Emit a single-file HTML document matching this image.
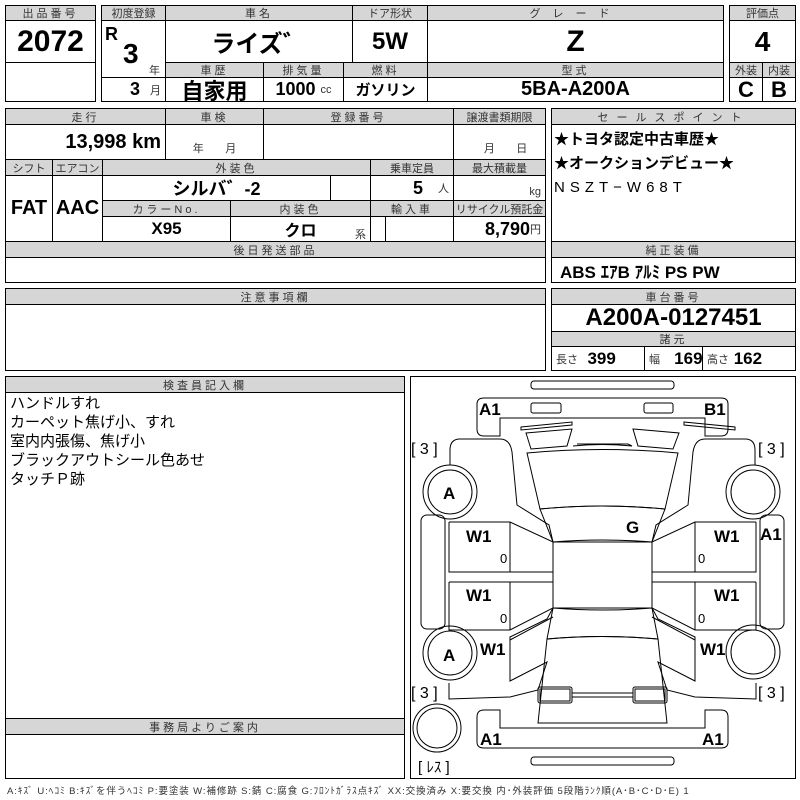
<!DOCTYPE html>
<html><head><meta charset="utf-8">
<style>
body{margin:0;width:800px;height:800px;background:#fff;position:relative;overflow:hidden;font-family:"Liberation Sans","Noto Sans CJK JP",sans-serif;}
.c{position:absolute;border:1px solid #000;box-sizing:border-box;display:flex;align-items:center;justify-content:center;white-space:nowrap;overflow:hidden;}
.h{background:#d6d6d6;font-size:11px;letter-spacing:3px;color:#333;}
.b{font-family:"Liberation Sans Narrow","Liberation Sans","Noto Sans CJK JP",sans-serif;font-weight:bold;color:#000;}
.s{font-size:11px;font-weight:normal;color:#333;}
.L{justify-content:flex-start;padding-left:4px;}
.R{justify-content:flex-end;padding-right:4px;}
</style></head><body>
<!-- top left -->
<div class="c h" style="left:5px;top:5px;width:91px;height:16px">出品番号</div>
<div class="c b" style="left:5px;top:20px;width:91px;height:43px;font-size:30px">2072</div>
<div class="c" style="left:5px;top:62px;width:91px;height:40px"></div>
<!-- main top -->
<div class="c h" style="left:101px;top:5px;width:65px;height:16px;letter-spacing:0">初度登録</div>
<div class="c h" style="left:165px;top:5px;width:188px;height:16px">車名</div>
<div class="c h" style="left:352px;top:5px;width:76px;height:16px;letter-spacing:0">ドア形状</div>
<div class="c h" style="left:427px;top:5px;width:297px;height:16px;letter-spacing:12px">グレード</div>
<div class="c" style="left:101px;top:20px;width:65px;height:58px"></div>
<div class="b" style="position:absolute;left:105px;top:24px;font-size:18px">R</div>
<div class="b" style="position:absolute;left:123px;top:38px;font-size:28px">3</div>
<div class="s" style="position:absolute;left:149px;top:62px">年</div>
<div class="c b" style="left:165px;top:20px;width:188px;height:43px;font-size:24px">ライズ゛</div>
<div class="c b" style="left:352px;top:20px;width:76px;height:43px;font-size:24px">5W</div>
<div class="c b" style="left:427px;top:20px;width:297px;height:43px;font-size:30px">Z</div>
<div class="c h" style="left:165px;top:62px;width:99px;height:16px">車歴</div>
<div class="c h" style="left:263px;top:62px;width:81px;height:16px">排気量</div>
<div class="c h" style="left:343px;top:62px;width:85px;height:16px">燃料</div>
<div class="c h" style="left:427px;top:62px;width:297px;height:16px">型式</div>
<div class="c b R" style="left:101px;top:77px;width:65px;height:25px;font-size:18px">3&nbsp;&nbsp;<span class="s">月</span></div>
<div class="c b" style="left:165px;top:77px;width:99px;height:25px;font-size:22px">自家用</div>
<div class="c b" style="left:263px;top:77px;width:81px;height:25px;font-size:18px">1000&nbsp;<span class="s">cc</span></div>
<div class="c b" style="left:343px;top:77px;width:85px;height:25px;font-size:15px">ガソリン</div>
<div class="c b" style="left:427px;top:77px;width:297px;height:25px;font-size:20px">5BA-A200A</div>
<!-- score -->
<div class="c h" style="left:729px;top:5px;width:67px;height:16px;letter-spacing:0">評価点</div>
<div class="c b" style="left:729px;top:20px;width:67px;height:43px;font-size:28px">4</div>
<div class="c h" style="left:729px;top:62px;width:34px;height:16px;letter-spacing:0">外装</div>
<div class="c h" style="left:762px;top:62px;width:34px;height:16px;letter-spacing:0">内装</div>
<div class="c b" style="left:729px;top:77px;width:34px;height:25px;font-size:22px">C</div>
<div class="c b" style="left:762px;top:77px;width:34px;height:25px;font-size:22px">B</div>
<!-- second block -->
<div class="c h" style="left:5px;top:108px;width:161px;height:17px">走行</div>
<div class="c h" style="left:165px;top:108px;width:99px;height:17px">車検</div>
<div class="c h" style="left:263px;top:108px;width:191px;height:17px">登録番号</div>
<div class="c h" style="left:453px;top:108px;width:93px;height:17px;letter-spacing:0">譲渡書類期限</div>
<div class="c b R" style="left:5px;top:124px;width:161px;height:36px;font-size:20px">13,998 km</div>
<div class="c s" style="left:165px;top:124px;width:99px;height:36px;align-items:flex-end;padding-bottom:3px">年&nbsp;&nbsp;&nbsp;&nbsp;&nbsp;&nbsp;&nbsp;月</div>
<div class="c" style="left:263px;top:124px;width:191px;height:36px"></div>
<div class="c s" style="left:453px;top:124px;width:93px;height:36px;align-items:flex-end;padding-bottom:3px">&nbsp;&nbsp;&nbsp;&nbsp;月&nbsp;&nbsp;&nbsp;&nbsp;&nbsp;&nbsp;&nbsp;日</div>
<div class="c h" style="left:5px;top:159px;width:48px;height:17px;letter-spacing:0">シフト</div>
<div class="c h" style="left:52px;top:159px;width:51px;height:17px;letter-spacing:0">エアコン</div>
<div class="c h" style="left:102px;top:159px;width:269px;height:17px">外装色</div>
<div class="c h" style="left:370px;top:159px;width:84px;height:17px;letter-spacing:0">乗車定員</div>
<div class="c h" style="left:453px;top:159px;width:93px;height:17px;letter-spacing:0">最大積載量</div>
<div class="c b" style="left:5px;top:175px;width:48px;height:67px;font-size:20px">FAT</div>
<div class="c b" style="left:52px;top:175px;width:51px;height:67px;font-size:20px">AAC</div>
<div class="c b" style="left:102px;top:175px;width:229px;height:26px;font-size:18px">シルバ゛-2</div>
<div class="c" style="left:330px;top:175px;width:41px;height:26px"></div>
<div class="c b R" style="left:370px;top:175px;width:84px;height:26px;font-size:18px">5&nbsp;&nbsp;&nbsp;<span class="s">人</span></div>
<div class="c s R" style="left:453px;top:175px;width:93px;height:26px;align-items:flex-end;padding-bottom:2px">kg</div>
<div class="c h" style="left:102px;top:200px;width:129px;height:17px">カラーNo.</div>
<div class="c h" style="left:230px;top:200px;width:141px;height:17px">内装色</div>
<div class="c h" style="left:370px;top:200px;width:84px;height:17px">輸入車</div>
<div class="c h" style="left:453px;top:200px;width:93px;height:17px;letter-spacing:0">リサイクル預託金</div>
<div class="c b" style="left:102px;top:216px;width:129px;height:26px;font-size:17px">X95</div>
<div class="c b" style="left:230px;top:216px;width:141px;height:26px;font-size:16px">クロ</div>
<div class="s" style="position:absolute;left:355px;top:226px">系</div>
<div class="c" style="left:370px;top:216px;width:16px;height:26px"></div>
<div class="c" style="left:385px;top:216px;width:69px;height:26px"></div>
<div class="c b R" style="left:453px;top:216px;width:93px;height:26px;font-size:18px">8,790<span class="s">円</span></div>
<!-- sale point -->
<div class="c h" style="left:551px;top:108px;width:245px;height:17px;letter-spacing:8px">セールスポイント</div>
<div class="c" style="left:551px;top:124px;width:245px;height:118px;display:block;padding:3px 2px;font-size:15px;font-weight:bold;line-height:24px;white-space:normal">★トヨタ認定中古車歴★<br>★オークションデビュー★<br><span style="font-weight:normal;letter-spacing:5px">NSZT−W68T</span></div>
<!-- row 3 -->
<div class="c h" style="left:5px;top:241px;width:541px;height:17px">後日発送部品</div>
<div class="c" style="left:5px;top:257px;width:541px;height:26px"></div>
<div class="c h" style="left:551px;top:241px;width:245px;height:17px">純正装備</div>
<div class="c b L" style="left:551px;top:257px;width:245px;height:26px;font-size:17px;padding-left:8px">ABS ｴｱB ｱﾙﾐ PS PW</div>
<div class="c h" style="left:5px;top:288px;width:541px;height:17px">注意事項欄</div>
<div class="c" style="left:5px;top:304px;width:541px;height:67px"></div>
<div class="c h" style="left:551px;top:288px;width:245px;height:17px">車台番号</div>
<div class="c b" style="left:551px;top:304px;width:245px;height:28px;font-size:24px">A200A-0127451</div>
<div class="c h" style="left:551px;top:331px;width:245px;height:16px">諸元</div>
<div class="c b L" style="left:551px;top:346px;width:94px;height:25px;font-size:17px"><span class="s">長さ</span>&nbsp;&nbsp;399</div>
<div class="c b L" style="left:644px;top:346px;width:59px;height:25px;font-size:17px"><span class="s">幅</span>&nbsp;&nbsp;&nbsp;169</div>
<div class="c b L" style="left:702px;top:346px;width:94px;height:25px;font-size:17px"><span class="s">高さ</span>&nbsp;162</div>
<!-- inspector -->
<div class="c h" style="left:5px;top:376px;width:400px;height:17px">検査員記入欄</div>
<div class="c" style="left:5px;top:392px;width:400px;height:327px;display:block;padding:1px 4px;font-size:15px;line-height:19px;white-space:normal">ハンドルすれ<br>カーペット焦げ小、すれ<br>室内内張傷、焦げ小<br>ブラックアウトシール色あせ<br>タッチＰ跡</div>
<div class="c h" style="left:5px;top:718px;width:400px;height:17px">事務局よりご案内</div>
<div class="c" style="left:5px;top:734px;width:400px;height:45px"></div>
<div style="position:absolute;left:7px;top:783px;font-size:9.5px;letter-spacing:0.9px;color:#333;white-space:nowrap">A:ｷｽﾞ U:ﾍｺﾐ B:ｷｽﾞを伴うﾍｺﾐ P:要塗装 W:補修跡 S:錆 C:腐食 G:ﾌﾛﾝﾄｶﾞﾗｽ点ｷｽﾞ XX:交換済み X:要交換 内･外装評価 5段階ﾗﾝｸ順(A･B･C･D･E) 1</div>
<!-- diagram -->
<div class="c" style="left:410px;top:376px;width:386px;height:403px"></div>
<svg style="position:absolute;left:0;top:0" width="800" height="800" fill="none" stroke="#000" stroke-width="1">
<rect x="531" y="381" width="143" height="8" rx="3"/>
<rect x="531" y="757" width="143" height="8" rx="3"/>
<path d="M500 436 L484 436 Q477 436 477 429 L477 404 Q477 398 484 398 L721 398 Q728 398 728 404 L728 429 Q728 436 721 436 L705 436 L705 418 L500 418 Z"/>
<path d="M500 710 L484 710 Q477 710 477 717 L477 742 Q477 748 484 748 L721 748 Q728 748 728 742 L728 717 Q728 710 721 710 L705 710 L705 728 L500 728 Z"/>
<rect x="531" y="403" width="30" height="10" rx="2"/>
<rect x="644" y="403" width="29" height="10" rx="2"/>
<path d="M521 427 L572 422 L572 425 L521 430 Z"/>
<path d="M684 422 L735 427 L735 430 L684 425 Z"/>
<path d="M526 433 L572 429 L567 446 L531 449 Z"/>
<path d="M633 429 L679 433 L673 449 L638 446 Z"/>
<path d="M573 446 Q602 443 632 446 L628 444 L577 444"/>
<path d="M527 453 Q602 446 678 453 L665 509 Q602 503 540 509 Z"/>
<path d="M540 509 Q602 503 665 509 L652 542 Q602 538 553 542 Z"/>
<rect x="553" y="542" width="99" height="66"/>
<path d="M553 608 Q602 612 652 608 L658 639 Q602 634 547 639 Z"/>
<path d="M547 639 Q602 634 658 639 L667 723 L538 723 Z"/>
<rect x="538" y="687" width="34" height="16" rx="2"/><rect x="540" y="689" width="30" height="12"/>
<rect x="633" y="687" width="34" height="16" rx="2"/><rect x="635" y="689" width="30" height="12"/>
<line x1="572" y1="693" x2="633" y2="693"/><line x1="572" y1="697" x2="633" y2="697"/>
<!-- left side -->
<path d="M450 465 L450 450 Q450 439 460 439 L500 439 Q510 439 512 452 L517 505 L549 525 L553 542 L510 522 L449 522"/>
<path d="M449 522 L449 572 L553 572 L553 542"/><line x1="510" y1="522" x2="510" y2="572"/>
<path d="M449 582 L553 582 L553 608 L510 630 L449 630 L449 582"/><line x1="510" y1="582" x2="510" y2="630"/>
<path d="M553 608 L547 619 L510 637 L510 681 L547 662 L538 690 L510 697 L449 699 Q449 694 449 683"/>
<path d="M553 617 L510 640"/>
<rect x="421" y="515" width="24" height="114" rx="6"/>
<!-- right side -->
<path d="M755 465 L755 450 Q755 439 745 439 L705 439 Q695 439 693 452 L688 505 L656 525 L652 542 L695 522 L756 522"/>
<path d="M756 522 L756 572 L652 572 L652 542"/><line x1="695" y1="522" x2="695" y2="572"/>
<path d="M756 582 L652 582 L652 608 L695 630 L756 630 L756 582"/><line x1="695" y1="582" x2="695" y2="630"/>
<path d="M652 608 L658 619 L695 637 L695 681 L658 662 L667 690 L695 697 L756 699 Q756 694 756 683"/>
<path d="M652 617 L695 640"/>
<rect x="760" y="515" width="24" height="114" rx="6"/>
<!-- tires -->
<circle cx="450" cy="492" r="27"/><circle cx="450" cy="492" r="22"/>
<circle cx="753" cy="492" r="27"/><circle cx="753" cy="492" r="22"/>
<circle cx="450" cy="653" r="27"/><circle cx="450" cy="653" r="22"/>
<circle cx="753" cy="652" r="27"/><circle cx="753" cy="652" r="22"/>
<circle cx="437" cy="728" r="24"/><circle cx="437" cy="728" r="20"/>
<g fill="#000" stroke="none" font-family="Liberation Sans Narrow, Liberation Sans, sans-serif" font-weight="bold" font-size="17">
<text x="479" y="415">A1</text><text x="704" y="415">B1</text>
<text x="443" y="499">A</text><text x="443" y="661">A</text>
<text x="466" y="542">W1</text><text x="714" y="542">W1</text>
<text x="466" y="601">W1</text><text x="714" y="601">W1</text>
<text x="480" y="655">W1</text><text x="700" y="655">W1</text>
<text x="626" y="533">G</text><text x="760" y="540">A1</text>
<text x="480" y="745">A1</text><text x="702" y="745">A1</text>
<g font-size="16" font-weight="normal"><text x="411" y="454">[ 3 ]</text><text x="758" y="454">[ 3 ]</text><text x="411" y="698">[ 3 ]</text><text x="758" y="698">[ 3 ]</text></g>
<g font-size="13" font-weight="normal"><text x="500" y="563">0</text><text x="698" y="563">0</text><text x="500" y="623">0</text><text x="698" y="623">0</text></g>
<text x="418" y="772" font-size="15" font-weight="normal">[ ﾚｽ ]</text>
</g>
</svg>
</body></html>
